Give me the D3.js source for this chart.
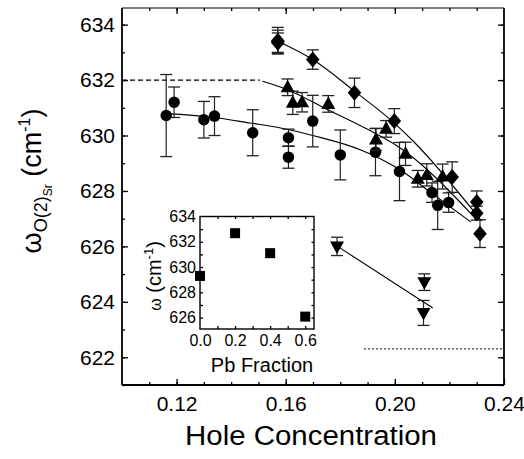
<!DOCTYPE html>
<html>
<head>
<meta charset="utf-8">
<script src="https://cdn.jsdelivr.net/npm/d3@7"></script>
<style>
  html, body { margin: 0; padding: 0; background: #fff; }
  svg { display: block; font-family: "Liberation Sans", Arial, Helvetica, sans-serif; }
</style>
</head>
<body>
<svg id="chart" width="524" height="459"></svg>
<script>
// Hole concentration vs. O(2)Sr phonon frequency, rows are [p, omega, error]
const circles = [
  [0.1162, 630.72, 1.48], [0.1191, 631.20, 0.55], [0.1300, 630.57, 0.66],
  [0.1339, 630.70, 0.70], [0.1479, 630.10, 0.83], [0.1610, 629.92, 0.31],
  [0.1610, 629.22, 0.40], [0.1699, 630.52, 0.93], [0.1800, 629.30, 0.90],
  [0.1929, 629.40, 0.85], [0.2017, 628.70, 1.05], [0.2136, 627.94, 0.35],
  [0.2157, 627.48, 0.87], [0.2197, 627.58, 0.35]
];
const triangles = [
  [0.1607, 631.74, 0.30], [0.1626, 631.18, 0.42], [0.1660, 631.20, 0.35],
  [0.1756, 631.14, 0.30], [0.1931, 629.86, 0.40], [0.1968, 630.24, 0.30],
  [0.2039, 629.34, 0.42], [0.2084, 628.44, 0.30], [0.2117, 628.58, 0.40],
  [0.2175, 628.52, 0.45]
];
const diamonds = [
  [0.1571, 633.42, 0.48], [0.1571, 633.38, 0.42], [0.1571, 633.35, 0.35],
  [0.1699, 632.74, 0.35], [0.1852, 631.54, 0.53], [0.1998, 630.52, 0.45],
  [0.2210, 628.50, 0.55], [0.2300, 627.60, 0.40], [0.2300, 627.20, 0.25],
  [0.2312, 626.46, 0.50]
];
const downTriangles = [
  [0.1788, 626.00, 0.33], [0.2108, 624.71, 0.30], [0.2105, 623.60, 0.45]
];

// Guide curves through each series
const circleFit = [
  [0.118, 630.78], [0.133, 630.66], [0.147, 630.45], [0.1577, 630.28],
  [0.1699, 630.00], [0.188, 629.46], [0.2016, 628.78], [0.214, 627.88], [0.2279, 626.88]
];
const triangleFit = [
  [0.1515, 631.96], [0.1595, 631.70], [0.176, 630.90], [0.1931, 630.06],
  [0.2006, 629.64], [0.2285, 627.12]
];
const diamondFit = [
  [0.1571, 633.40], [0.1699, 632.74], [0.1852, 631.60], [0.1998, 630.45],
  [0.2065, 629.82], [0.2316, 626.94]
];
const downFit = [[0.179, 626.00], [0.2139, 623.78]];
const dashedRef = [[0.100, 632.0], [0.1505, 632.0]];
const dottedRef = [[0.1888, 622.3], [0.240, 622.3]];

// Main axis ticks
const xMajorTicks = [0.12, 0.16, 0.20, 0.24];
const xMinorTicks = [0.11, 0.12, 0.13, 0.14, 0.15, 0.16, 0.17, 0.18, 0.19, 0.20, 0.21, 0.22, 0.23];
const yMajorTicks = [622, 624, 626, 628, 630, 632, 634];
const yMinorTicks = [621, 622, 623, 624, 625, 626, 627, 628, 629, 630, 631, 632, 633, 634];

// Inset: frequency vs Pb fraction
const pbFraction = [0.0, 0.2, 0.4, 0.6];
const pbOmega = [629.3, 632.68, 631.1, 626.08];
const insetXTicks = [0.0, 0.2, 0.4, 0.6];
const insetXMinor = [0.1, 0.2, 0.3, 0.4, 0.5, 0.6];
const insetYTicks = [626, 628, 630, 632, 634];
const insetYMinor = [626, 627, 628, 629, 630, 631, 632, 633];

const svg = d3.select("#chart");
const L = 122, R = 504, T = 8, B = 385;
const x = d3.scaleLinear().domain([0.10, 0.24]).range([L, R]);
const y = d3.scaleLinear().domain([621, 634.6]).range([B, T]);

const fmt2 = d3.format(".2f");

function styleAxis(g, fontSize) {
  g.select(".domain").remove();
  g.selectAll(".tick line").attr("stroke", "#000").attr("stroke-width", 1.3);
  g.selectAll("text").attr("fill", "#000").attr("font-size", fontSize)
    .attr("font-family", "'Liberation Sans', Arial, sans-serif");
}

// bottom
svg.append("g").attr("transform", `translate(0,${B})`)
  .call(d3.axisBottom(x).tickValues(xMinorTicks).tickSize(-3).tickFormat(""))
  .call(g => styleAxis(g, 0));
svg.append("g").attr("transform", `translate(0,${B})`)
  .call(d3.axisBottom(x).tickValues(xMajorTicks).tickSize(-6).tickPadding(11).tickFormat(fmt2))
  .call(g => styleAxis(g, 21));
// top
svg.append("g").attr("transform", `translate(0,${T})`)
  .call(d3.axisTop(x).tickValues(xMinorTicks).tickSize(-3).tickFormat(""))
  .call(g => styleAxis(g, 0));
svg.append("g").attr("transform", `translate(0,${T})`)
  .call(d3.axisTop(x).tickValues(xMajorTicks.filter(v => v < 0.24)).tickSize(-6).tickFormat(""))
  .call(g => styleAxis(g, 0));
// left
svg.append("g").attr("transform", `translate(${L},0)`)
  .call(d3.axisLeft(y).tickValues(yMinorTicks).tickSize(-3).tickFormat(""))
  .call(g => styleAxis(g, 0));
svg.append("g").attr("transform", `translate(${L},0)`)
  .call(d3.axisLeft(y).tickValues(yMajorTicks).tickSize(-6).tickPadding(7).tickFormat(d3.format("d")))
  .call(g => styleAxis(g, 21));
// right
svg.append("g").attr("transform", `translate(${R},0)`)
  .call(d3.axisRight(y).tickValues(yMinorTicks).tickSize(-3).tickFormat(""))
  .call(g => styleAxis(g, 0));
svg.append("g").attr("transform", `translate(${R},0)`)
  .call(d3.axisRight(y).tickValues(yMajorTicks).tickSize(-6).tickFormat(""))
  .call(g => styleAxis(g, 0));

// frame
svg.append("line").attr("x1", L).attr("x2", R).attr("y1", T).attr("y2", T).attr("stroke", "#000").attr("stroke-width", 1.2);
svg.append("line").attr("x1", L).attr("x2", R).attr("y1", B).attr("y2", B).attr("stroke", "#000").attr("stroke-width", 2.2);
svg.append("line").attr("x1", L).attr("x2", L).attr("y1", T).attr("y2", B).attr("stroke", "#000").attr("stroke-width", 1.8);
svg.append("line").attr("x1", R).attr("x2", R).attr("y1", T).attr("y2", B).attr("stroke", "#000").attr("stroke-width", 1.8);

// reference lines
const straight = d3.line().x(d => x(d[0])).y(d => y(d[1]));
svg.append("path").attr("d", straight(dashedRef)).attr("fill", "none")
  .attr("stroke", "#000").attr("stroke-width", 1.3).attr("stroke-dasharray", "5,3");
svg.append("path").attr("d", straight(dottedRef)).attr("fill", "none")
  .attr("stroke", "#000").attr("stroke-width", 1.2).attr("stroke-dasharray", "1.5,2.5");

// fit curves
const smooth = d3.line().x(d => x(d[0])).y(d => y(d[1])).curve(d3.curveMonotoneX);
[circleFit, triangleFit, diamondFit, downFit].forEach(pts => {
  svg.append("path").attr("d", smooth(pts)).attr("fill", "none")
    .attr("stroke", "#000").attr("stroke-width", 1.1);
});

// marker shapes
const diamondShape = { draw(ctx) { ctx.moveTo(0, -8); ctx.lineTo(6.8, 0); ctx.lineTo(0, 8); ctx.lineTo(-6.8, 0); ctx.closePath(); } };
const upShape = { draw(ctx) { ctx.moveTo(0, -7.5); ctx.lineTo(7, 5); ctx.lineTo(-7, 5); ctx.closePath(); } };
const downShape = { draw(ctx) { ctx.moveTo(0, 7.5); ctx.lineTo(7, -5); ctx.lineTo(-7, -5); ctx.closePath(); } };
const circleShape = d3.symbolCircle;

function drawSeries(rows, shape, size) {
  const g = svg.append("g");
  rows.forEach(([px, py, e]) => {
    const cx = x(px), y0 = y(py - e), y1 = y(py + e);
    g.append("line").attr("x1", cx).attr("x2", cx).attr("y1", y0).attr("y2", y1)
      .attr("stroke", "#222").attr("stroke-width", 1.2);
    [y0, y1].forEach(yy => g.append("line").attr("x1", cx - 6).attr("x2", cx + 6)
      .attr("y1", yy).attr("y2", yy).attr("stroke", "#222").attr("stroke-width", 1.3));
  });
  g.selectAll("path.m").data(rows).join("path").attr("class", "m")
    .attr("transform", d => `translate(${x(d[0])},${y(d[1])})`)
    .attr("d", d3.symbol(shape, size)())
    .attr("fill", "#000");
}
drawSeries(circles, circleShape, 104);
drawSeries(triangles, upShape, 1);
drawSeries(diamonds, diamondShape, 1);
drawSeries(downTriangles, downShape, 1);

// axis titles
svg.append("text").attr("x", 311).attr("y", 445).attr("text-anchor", "middle")
  .attr("font-size", 27).attr("textLength", 252).attr("lengthAdjust", "spacingAndGlyphs")
  .text("Hole Concentration");

const yt = svg.append("text").attr("transform", "rotate(-90)")
  .attr("x", -181).attr("y", 41).attr("text-anchor", "middle").attr("font-size", 27);
yt.append("tspan").text("ω");
yt.append("tspan").attr("font-size", 18).attr("dy", 6).text("O(2)");
yt.append("tspan").attr("font-size", 12).attr("dy", 5).text("Sr");
yt.append("tspan").attr("font-size", 27).attr("dy", -11).text(" (cm");
yt.append("tspan").attr("font-size", 16).attr("dy", -11).text("-1");
yt.append("tspan").attr("font-size", 27).attr("dy", 11).text(")");

// ---- inset ----
const iL = 200, iR = 314, iT = 216.5, iB = 329;
const ix = d3.scaleLinear().domain([0, 0.65]).range([iL, iR]);
const iy = d3.scaleLinear().domain([625.1, 634]).range([iB, iT]);

svg.append("rect").attr("x", iL).attr("y", iT).attr("width", iR - iL).attr("height", iB - iT)
  .attr("fill", "#fff");

svg.append("g").attr("transform", `translate(0,${iB})`)
  .call(d3.axisBottom(ix).tickValues(insetXMinor).tickSize(-3).tickFormat(""))
  .call(g => styleAxis(g, 0));
svg.append("g").attr("transform", `translate(0,${iB})`)
  .call(d3.axisBottom(ix).tickValues(insetXTicks).tickSize(0).tickPadding(6).tickFormat(d3.format(".1f")))
  .call(g => styleAxis(g, 16));
svg.append("g").attr("transform", `translate(0,${iT})`)
  .call(d3.axisTop(ix).tickValues(insetXMinor).tickSize(-2.5).tickFormat(""))
  .call(g => styleAxis(g, 0));
svg.append("g").attr("transform", `translate(${iL},0)`)
  .call(d3.axisLeft(iy).tickValues(insetYMinor).tickSize(-3).tickFormat(""))
  .call(g => styleAxis(g, 0));
svg.append("g").attr("transform", `translate(${iL},0)`)
  .call(d3.axisLeft(iy).tickValues(insetYTicks).tickSize(0).tickPadding(4).tickFormat(d3.format("d")))
  .call(g => styleAxis(g, 16));
svg.append("g").attr("transform", `translate(${iR},0)`)
  .call(d3.axisRight(iy).tickValues(insetYMinor).tickSize(-2.5).tickFormat(""))
  .call(g => styleAxis(g, 0));

svg.append("rect").attr("x", iL).attr("y", iT).attr("width", iR - iL).attr("height", iB - iT)
  .attr("fill", "none").attr("stroke", "#000").attr("stroke-width", 1.4);

svg.append("g").selectAll("rect.sq").data(pbFraction).join("rect").attr("class", "sq")
  .attr("x", (d) => ix(d) - 5).attr("y", (d, i) => iy(pbOmega[i]) - 5)
  .attr("width", 10).attr("height", 10).attr("fill", "#000");

svg.append("text").attr("x", 262).attr("y", 372).attr("text-anchor", "middle")
  .attr("font-size", 20).text("Pb Fraction");

const iyt = svg.append("text").attr("transform", "rotate(-90)")
  .attr("x", -276).attr("y", 161).attr("text-anchor", "middle").attr("font-size", 20);
iyt.append("tspan").attr("font-size", 16).text("ω");
iyt.append("tspan").text(" (cm");
iyt.append("tspan").attr("font-size", 13).attr("dy", -8).text("-1");
iyt.append("tspan").attr("dy", 8).text(")");
</script>
</body>
</html>
